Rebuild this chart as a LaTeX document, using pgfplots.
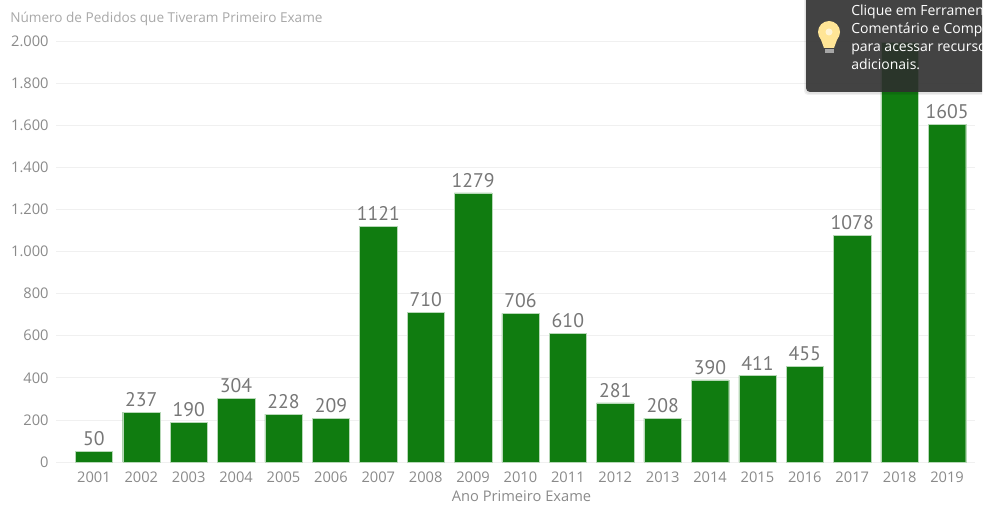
\documentclass[border=0pt]{standalone}
\usepackage{pgfplots}
\pgfplotsset{compat=1.18}
\usepackage{fontspec}
\setmainfont{Open Sans}
\newfontfamily\labelfont{PT Sans}
\definecolor{barGreen}{HTML}{107C10}
\definecolor{tickGrey}{HTML}{8A8A8A}
\definecolor{titleGrey}{HTML}{A8A8A8}
\definecolor{labelGrey}{HTML}{777777}
\definecolor{gridGrey}{HTML}{F0F0F0}
\definecolor{tipGrey}{HTML}{2E2E2E}
\definecolor{bulbYellow}{HTML}{FFE596}
\begin{document}
\begin{tikzpicture}[x=0.75pt,y=0.75pt]
\path[use as bounding box] (0,0) rectangle (986,504);
\begin{axis}[
    at={(42pt,31.5pt)},
    anchor=south west,
    scale only axis,
    width=689.25pt,
    height=315.75pt,
    xmin=-0.80, xmax=18.59,
    ymin=0, ymax=2000,
    axis line style={draw=none},
    tick style={draw=none},
    ymajorgrids,
    grid style={gridGrey,line width=0.6pt},
    ytick={0,200,...,2000},
    yticklabel style={font=\fontsize{11pt}{12pt}\selectfont,text=tickGrey,xshift=-2pt},
    yticklabels={0,200,400,600,800,{1.000},{1.200},{1.400},{1.600},{1.800},{2.000}},
    xtick=data,
    xticklabels={2001,2002,2003,2004,2005,2006,2007,2008,2009,2010,2011,2012,2013,2014,2015,2016,2017,2018,2019},
    xticklabel style={font=\fontsize{11pt}{12pt}\selectfont,text=tickGrey,yshift=0.5pt},
    xlabel={Ano Primeiro Exame},
    xlabel style={font=\fontsize{11pt}{12pt}\selectfont,text=tickGrey,yshift=1pt,xshift=4.5pt},
    ybar,
    bar width=28pt,
    point meta=explicit symbolic,
    nodes near coords,
    nodes near coords style={font=\labelfont\fontsize{14.8pt}{16pt}\selectfont,text=labelGrey,inner sep=4pt},
    clip=false,
]
% the label of 2018 is hidden by the tooltip in the reference
\addplot[fill=barGreen,draw=barGreen!30!white,line width=0.2pt] coordinates {
    (0,50) [50] (1,237) [237] (2,190) [190] (3,304) [304] (4,228) [228] (5,209) [209]
    (6,1121) [1121] (7,710) [710] (8,1279) [1279] (9,706) [706] (10,610) [610]
    (11,281) [281] (12,208) [208] (13,390) [390] (14,411) [411] (15,455) [455]
    (16,1078) [1078] (17,1995) [] (18,1605) [1605]
};
\end{axis}
\node[anchor=west,inner sep=0pt,text=titleGrey,font=\fontsize{10.2pt}{12pt}\selectfont] at (10,485.5) {Número de Pedidos que Tiveram Primeiro Exame};
% tooltip over the chart, see-through enough to show the 2018 bar
\begin{scope}
\clip (0,0) rectangle (982,504);
\fill[black,fill opacity=0.06,rounded corners=3pt] (804,409) rectangle (1000,520);
\fill[black,fill opacity=0.06,rounded corners=3pt] (805,410) rectangle (1000,520);
\fill[tipGrey,fill opacity=0.88,rounded corners=3pt] (806,412) rectangle (1000,520);
\node[anchor=north west,inner sep=0pt,text=white,align=left,font=\fontsize{10.5pt}{13.5pt}\selectfont] at (851,499)
  {Clique em Ferramentas de\\Comentário e Compartilhar\\para acessar recursos\\adicionais.};
\end{scope}
% lightbulb icon
\fill[bulbYellow] (829,472) circle (11);
\fill[bulbYellow] (820,467) -- (824,456) -- (834,456) -- (838,467) -- cycle;
\fill[white,fill opacity=0.6] (829,472) circle (3.5);
\fill[gray!70] (824.5,455) rectangle (833.5,451);
\end{tikzpicture}
\end{document}
